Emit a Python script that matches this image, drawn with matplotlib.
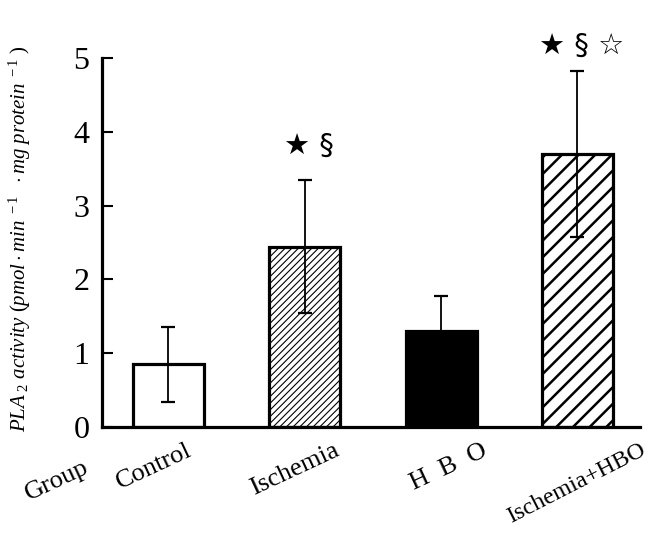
import matplotlib
matplotlib.use("Agg")
import matplotlib.pyplot as plt
import matplotlib.transforms as mtrans
import numpy as np

groups = ["Control", "Ischemia", "H  B  O", "Ischemia+HBO"]
means = [0.85, 2.44, 1.30, 3.70]
sds = [0.51, 0.90, 0.48, 1.12]
marks = ["", "\u2605 \u00a7", "", "\u2605 \u00a7 \u2606"]
yticks = [0, 1, 2, 3, 4, 5]

plt.rcParams["font.family"] = ["Liberation Serif", "DejaVu Serif"]
plt.rcParams["mathtext.fontset"] = "custom"
plt.rcParams["mathtext.it"] = "Liberation Serif:italic"
plt.rcParams["mathtext.rm"] = "Liberation Serif"

fig = plt.figure(figsize=(6.5, 5.36), dpi=100)
ax = fig.add_axes([0.157, 0.2034, 0.828, 0.6884])

x = np.arange(len(groups))
faces = ["white", "white", "black", "white"]
hatches = [None, "/////", None, "//"]
hlw = [1.0, 0.8, 1.0, 1.8]

for i in range(len(groups)):
    with plt.rc_context({"hatch.linewidth": hlw[i]}):
        b = ax.bar(x[i], means[i], width=0.52, color=faces[i], edgecolor="black",
                   linewidth=2.3, hatch=hatches[i], zorder=2)
    if hasattr(b[0], "set_hatch_linewidth"):
        b[0].set_hatch_linewidth(hlw[i])

ax.errorbar(x, means, yerr=sds, fmt="none", ecolor="black", elinewidth=1.3,
            capsize=5, capthick=1.6, zorder=3)

# significance symbols
pads = [0, 0.47, 0, 0.34]
for i, m in enumerate(marks):
    if m:
        ax.text(x[i] + 0.03, means[i] + sds[i] + pads[i], m, ha="center", va="center",
                fontsize=21, family=["DejaVu Sans"], clip_on=False)

ax.set_xlim(-0.485, 3.46)
ax.set_ylim(0, 5)
ax.set_yticks(yticks)
ax.set_yticklabels([str(t) for t in yticks], fontsize=23)
ax.tick_params(axis="y", direction="in", length=8, width=1.5, pad=9)
ax.set_xticks(x)
ax.set_xticklabels(groups, rotation=25, ha="center", fontsize=19)
ax.tick_params(axis="x", length=0, pad=9)

# nudge the slanted group names a little, as in the original
shifts = [-14, -10, 8, -1]
labs = ax.get_xticklabels()
for lab, dx in zip(labs, shifts):
    lab.set_transform(lab.get_transform() + mtrans.ScaledTranslation(dx / 100, 0, fig.dpi_scale_trans))
labs[-1].set_fontsize(17.5)
labs[-1].set_rotation(27)

for s in ["top", "right"]:
    ax.spines[s].set_visible(False)
ax.spines["left"].set_linewidth(2.3)
ax.spines["bottom"].set_linewidth(2.3)

ax.text(-0.084, -0.145, "Group", transform=ax.transAxes, rotation=25,
        ha="center", va="center", fontsize=19)

ax.set_ylabel(r"$PLA_{\ 2}\ activity\ (pmol\cdot min^{\ -1}\ \ \cdot mg\ protein^{\ -1}\ )$",
              fontsize=15)
ax.yaxis.set_label_coords(-0.128, 0.51)

fig.savefig("out.png", dpi=100)
